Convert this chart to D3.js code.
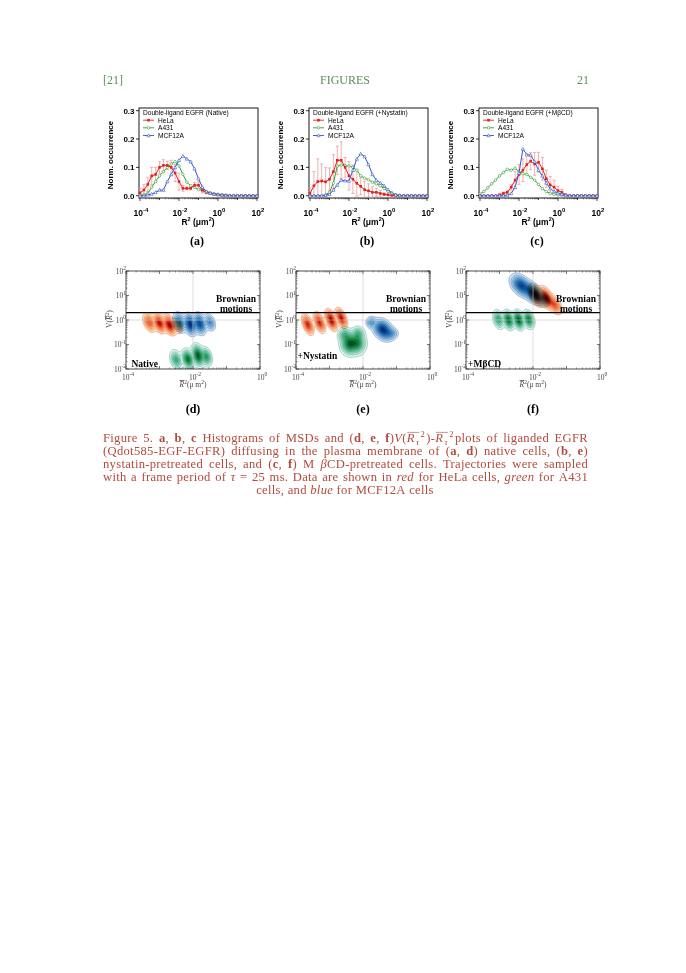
<!DOCTYPE html>
<html><head><meta charset="utf-8">
<script src="https://cdn.jsdelivr.net/npm/d3@7"></script>
<style>html,body{margin:0;padding:0;background:#fff;} svg{display:block;}</style>
</head><body><svg id="c" width="686" height="973"></svg>
<script>
// ---------------- DATA ----------------
const binExp = [-4,-3.8,-3.6,-3.4,-3.2,-3,-2.8,-2.6,-2.4,-2.2,-2,-1.8,-1.6,-1.4,-1.2,-1,-0.8,-0.6,-0.4,-0.2,0,0.2,0.4,0.6,0.8,1,1.2,1.4,1.6,1.8,2];
const seriesNames = ["HeLa","A431","MCF12A"];
const histTitles = ["Double-ligand EGFR (Native)","Double-ligand EGFR (+Nystatin)","Double-ligand EGFR (+M\u03b2CD)"];
const histLabels = ["(a)","(b)","(c)"];
const yTickVals = [0,0.1,0.2,0.3];
const yTickLabels = ["0.0","0.1","0.2","0.3"];
const xTickExp = [-4,-2,0,2];
const xTickLabels = ["-4","-2","0","2"];

const helaA = [0.01,0.02,0.04,0.07,0.075,0.1,0.107,0.107,0.1,0.08,0.05,0.026,0.026,0.026,0.037,0.037,0.02,0.012,0.008,0.005,0.003,0.002,0.001,0,0,0,0,0,0,0,0];
const helaErrA = [0.015,0.02,0.025,0.03,0.025,0.02,0.02,0.015,0.025,0.03,0.03,0.01,0.005,0.005,0.01,0.012,0.01,0.005,0.003,0.002,0.001,0,0,0,0,0,0,0,0,0,0];
const a431A = [0.002,0.004,0.008,0.03,0.05,0.07,0.085,0.1,0.112,0.12,0.105,0.075,0.048,0.035,0.03,0.022,0.018,0.014,0.01,0.007,0.005,0.003,0.002,0.001,0,0,0,0,0,0,0];
const mcfA = [0,0,0.003,0.006,0.012,0.02,0.02,0.05,0.075,0.1,0.125,0.14,0.13,0.12,0.095,0.06,0.03,0.015,0.01,0.006,0.004,0.002,0.001,0,0,0,0,0,0,0,0];

const helaB = [0.008,0.035,0.05,0.052,0.049,0.058,0.085,0.125,0.125,0.1,0.07,0.058,0.044,0.033,0.021,0.017,0.012,0.012,0.008,0.005,0.003,0.001,0,0,0,0,0,0,0,0,0];
const helaErrB = [0.02,0.05,0.08,0.06,0.05,0.04,0.06,0.05,0.065,0.035,0.05,0.05,0.045,0.03,0.03,0.025,0.02,0.015,0.01,0.005,0.003,0,0,0,0,0,0,0,0,0,0];
const a431B = [0,0,0,0,0.003,0.012,0.045,0.105,0.108,0.106,0.105,0.1,0.09,0.07,0.062,0.056,0.048,0.042,0.035,0.025,0.015,0.008,0.003,0.001,0,0,0,0,0,0,0];
const mcfB = [0,0,0,0,0.002,0.005,0.02,0.038,0.055,0.053,0.052,0.09,0.13,0.148,0.138,0.11,0.075,0.055,0.045,0.035,0.022,0.01,0.003,0.001,0,0,0,0,0,0,0];

const helaC = [0,0,0,0,0,0.003,0.008,0.012,0.03,0.055,0.075,0.09,0.11,0.122,0.112,0.118,0.095,0.06,0.038,0.03,0.018,0.012,0.003,0,0,0,0,0,0,0,0];
const helaErrC = [0,0,0,0,0,0.003,0.005,0.008,0.01,0.03,0.035,0.04,0.035,0.03,0.04,0.035,0.04,0.03,0.03,0.025,0.015,0.01,0.002,0,0,0,0,0,0,0,0];
const a431C = [0.006,0.015,0.028,0.042,0.055,0.07,0.082,0.093,0.09,0.097,0.085,0.078,0.075,0.065,0.055,0.04,0.025,0.015,0.008,0.005,0.003,0.002,0,0,0,0,0,0,0,0,0];
const mcfC = [0,0,0,0,0,0,0,0.002,0.008,0.03,0.08,0.165,0.145,0.143,0.12,0.09,0.07,0.045,0.025,0.015,0.01,0.005,0.002,0,0,0,0,0,0,0,0];

// contour panels: blob readings [log10 R2, log10 V, spreadX, spreadY, weight, tilt]
const contourLabels = ["(d)","(e)","(f)"];
const contourTags = ["Native","+Nystatin","+M\u03b2CD"];
const vYTickExp = [2,1,0,-1,-2];
const vXTickExp = [-4,-2,0];
const brownianV = 2;
const redD = [[-3.3,-0.1,0.09,0.18,0.55,-0.4],[-3.0,-0.13,0.09,0.18,0.85,-0.4],[-2.7,-0.2,0.09,0.18,1.0,-0.4],[-2.45,-0.25,0.07,0.15,0.3,-0.3]];
const blueD = [[-2.4,-0.1,0.09,0.19,0.6,-0.3],[-2.08,-0.18,0.09,0.2,1.0,-0.3],[-1.8,-0.15,0.09,0.2,0.85,-0.3],[-1.5,-0.1,0.08,0.16,0.45,-0.3]];
const greenD = [[-2.5,-1.63,0.09,0.19,0.5,-0.3],[-2.15,-1.6,0.09,0.19,0.85,-0.3],[-1.85,-1.45,0.09,0.21,1.0,-0.3],[-1.6,-1.5,0.08,0.18,0.6,-0.3]];
const redE = [[-3.65,-0.18,0.08,0.19,0.75,-0.5],[-3.3,-0.1,0.08,0.19,0.75,-0.5],[-2.95,0.0,0.08,0.19,1.0,-0.5],[-2.65,0.08,0.08,0.18,0.85,-0.5]];
const greenE = [[-2.4,-0.97,0.13,0.22,1.0,0],[-2.15,-0.95,0.12,0.22,0.7,0],[-2.55,-0.6,0.1,0.15,0.45,0],[-2.15,-0.55,0.1,0.14,0.4,0]];
const blueE = [[-1.4,-0.4,0.14,0.2,1.0,-0.3],[-1.75,-0.1,0.08,0.12,0.35,0],[-1.15,-0.55,0.1,0.12,0.3,0]];
const blueF = [[-2.35,1.4,0.15,0.21,0.9,-0.4],[-2.0,1.1,0.13,0.2,1.0,-0.4],[-1.7,0.85,0.1,0.15,0.4,-0.3]];
const redF = [[-1.9,1.0,0.1,0.2,0.9,-0.5],[-1.6,0.9,0.1,0.2,1.0,-0.5],[-1.35,0.62,0.1,0.18,0.55,-0.5]];
const greenF = [[-3.03,0.02,0.08,0.18,0.55,-0.3],[-2.73,0.0,0.08,0.18,0.9,-0.3],[-2.43,0.0,0.08,0.18,1.0,-0.3],[-2.13,0.02,0.08,0.17,0.8,-0.3]];

const captionLines = [
  [["Figure 5. "],["a","b"],[", "],["b","b"],[", "],["c","b"],[" Histograms of MSDs and ("],["d","b"],[", "],["e","b"],[", "],["f","b"],[")"],["V","i"],["("],["R","oi"],["\u03c4","osub"],["2","sup"],[")-"],["R","oi"],["\u03c4","osub"],["2","sup"],["plots of liganded EGFR"]],
  [["(Qdot585-EGF-EGFR) diffusing in the plasma membrane of ("],["a","b"],[", "],["d","b"],[") native cells, ("],["b","b"],[", "],["e","b"],[")"]],
  [["nystatin-pretreated cells, and ("],["c","b"],[", "],["f","b"],[") M "],["\u03b2","i"],["CD-pretreated cells.  Trajectories were sampled"]],
  [["with a frame period of "],["\u03c4","i"],[" = 25 ms. Data are shown in "],["red","i"],[" for HeLa cells, "],["green","i"],[" for A431"]],
  [["cells, and "],["blue","i"],[" for MCF12A cells"]]
];

// ---------------- DRAW ----------------
const svg = d3.select("#c");
const SANS = "'Liberation Sans', Arial, sans-serif";
const SERIF = "'Liberation Serif', 'Times New Roman', serif";
const COL = {HeLa:"#e3201b", A431:"#33a02c", MCF12A:"#3355cc"};

const hdr = svg.append("g").attr("font-family", SERIF).attr("font-size", 12).attr("fill", "#5b8f5b");
hdr.append("text").attr("x", 103).attr("y", 84).text("[21]");
hdr.append("text").attr("x", 345).attr("y", 84).attr("text-anchor","middle").text("FIGURES");
hdr.append("text").attr("x", 589).attr("y", 84).attr("text-anchor","end").text("21");

function sup10(sel, exp, supFs, dy) {
  sel.append("tspan").text("10");
  sel.append("tspan").attr("dy", -dy).attr("font-size", supFs).text(exp);
}

const histData = [
  {hela: helaA, err: helaErrA, a431: a431A, mcf: mcfA},
  {hela: helaB, err: helaErrB, a431: a431B, mcf: mcfB},
  {hela: helaC, err: helaErrC, a431: a431C, mcf: mcfC}
];
const histLefts = [139, 309, 479];

function marker(g, name, x, y) {
  if (name === "HeLa") {
    g.append("rect").attr("x", x-1.3).attr("y", y-1.3).attr("width", 2.6).attr("height", 2.6).attr("fill", COL.HeLa);
  } else if (name === "A431") {
    g.append("circle").attr("cx", x).attr("cy", y).attr("r", 1.3).attr("fill", "#fff").attr("stroke", COL.A431).attr("stroke-width", 0.6);
  } else {
    const s = 1.6;
    g.append("path").attr("d", `M${x},${y-s}L${x+s},${y+s*0.8}L${x-s},${y+s*0.8}Z`).attr("fill", "#fff").attr("stroke", COL.MCF12A).attr("stroke-width", 0.6);
  }
}

histData.forEach((pd, pi) => {
  const x0 = histLefts[pi];
  const top = 108, bot = 198;
  const g = svg.append("g");
  const xs = d3.scaleLog().domain([1e-4, 1e2]).range([x0 + 1, x0 + 118]);
  const ys = d3.scaleLinear().domain([0, 0.3]).range([195.7, 110.7]);
  const px = i => xs(Math.pow(10, binExp[i]));

  g.append("rect").attr("x", x0).attr("y", top).attr("width", 119).attr("height", bot - top)
    .attr("fill", "none").attr("stroke", "#000").attr("stroke-width", 0.9);

  yTickVals.forEach((v, k) => {
    g.append("line").attr("x1", x0 - 3).attr("x2", x0).attr("y1", ys(v)).attr("y2", ys(v)).attr("stroke", "#000").attr("stroke-width", 0.8);
    g.append("text").attr("x", x0 - 4.5).attr("y", ys(v) + 2.8).attr("text-anchor", "end")
      .attr("font-family", SANS).attr("font-weight", "bold").attr("font-size", 8).text(yTickLabels[k]);
  });
  for (let e = -4; e <= 2; e++) {
    const major = (e % 2 === 0);
    g.append("line").attr("x1", xs(Math.pow(10, e))).attr("x2", xs(Math.pow(10, e))).attr("y1", bot).attr("y2", bot + (major ? 3 : 2))
      .attr("stroke", "#000").attr("stroke-width", 0.7);
    if (e < 2) for (let m = 2; m <= 9; m++) {
      const xv = xs(m * Math.pow(10, e));
      g.append("line").attr("x1", xv).attr("x2", xv).attr("y1", bot).attr("y2", bot + 1.3).attr("stroke", "#000").attr("stroke-width", 0.5);
    }
  }
  xTickExp.forEach((e, k) => {
    const t = g.append("text").attr("x", xs(Math.pow(10, e)) + 1).attr("y", 216).attr("text-anchor", "middle")
      .attr("font-family", SANS).attr("font-weight", "bold").attr("font-size", 8.5);
    sup10(t, xTickLabels[k], 6, 4.5);
  });
  const xt = g.append("text").attr("x", x0 + 59).attr("y", 224.5).attr("text-anchor", "middle")
    .attr("font-family", SANS).attr("font-weight", "bold").attr("font-size", 8.5);
  xt.append("tspan").text("R");
  xt.append("tspan").attr("dy", -4).attr("font-size", 5.5).text("2");
  xt.append("tspan").attr("dy", 4).text(" (\u03bcm");
  xt.append("tspan").attr("dy", -4).attr("font-size", 5.5).text("2");
  xt.append("tspan").attr("dy", 4).text(")");
  g.append("text").attr("transform", `translate(${x0 - 26},${155}) rotate(-90)`).attr("text-anchor", "middle")
    .attr("font-family", SANS).attr("font-weight", "bold").attr("font-size", 8).text("Norm. occurrence");
  g.append("text").attr("x", x0 + 58).attr("y", 245).attr("text-anchor", "middle")
    .attr("font-family", SERIF).attr("font-weight", "bold").attr("font-size", 12).text(histLabels[pi]);

  const lg = g.append("g").attr("font-family", SANS).attr("font-size", 6.6);
  lg.append("text").attr("x", x0 + 4).attr("y", 114.8).text(histTitles[pi]);
  const legY = [120.2, 127.8, 135.5];
  seriesNames.forEach((s, k) => {
    lg.append("line").attr("x1", x0 + 4).attr("x2", x0 + 15).attr("y1", legY[k]).attr("y2", legY[k]).attr("stroke", COL[s]).attr("stroke-width", 0.9);
    marker(lg, s, x0 + 9.5, legY[k]);
    lg.append("text").attr("x", x0 + 19).attr("y", legY[k] + 2.3).text(s);
  });

  const line = d3.line().x((d, i) => px(i)).y(d => ys(d));
  const eg = g.append("g").attr("stroke", "#eb9090").attr("stroke-width", 0.7);
  pd.err.forEach((e, i) => {
    if (e <= 0) return;
    const x = px(i), y1 = ys(pd.hela[i] + e), y2 = ys(Math.max(pd.hela[i] - e, -0.005));
    eg.append("line").attr("x1", x).attr("x2", x).attr("y1", y1).attr("y2", y2);
    eg.append("line").attr("x1", x - 1.6).attr("x2", x + 1.6).attr("y1", y1).attr("y2", y1);
    eg.append("line").attr("x1", x - 1.6).attr("x2", x + 1.6).attr("y1", y2).attr("y2", y2);
  });
  [["A431", pd.a431], ["HeLa", pd.hela], ["MCF12A", pd.mcf]].forEach(([s, vals]) => {
    g.append("path").attr("d", line(vals)).attr("fill", "none").attr("stroke", COL[s]).attr("stroke-width", 1);
    const mg = g.append("g");
    vals.forEach((v, i) => marker(mg, s, px(i), ys(v)));
  });
});

// ---------------- CONTOUR PANELS ----------------
const contourLefts = [126, 296, 466];
const ctTop = 271, ctBot = 369, ctW = 134;
const levels = [0.04, 0.11, 0.2, 0.31, 0.43, 0.56, 0.7, 0.85];
const groupStyle = {
  red:   {interp: d3.interpolateOrRd, stroke: "#d94a2c", lo: 0.15, hi: 0.97},
  blue:  {interp: d3.interpolateBlues, stroke: "#2c5ca8", lo: 0.2, hi: 1.0},
  green: {interp: d3.interpolateBuGn, stroke: "#2a9560", lo: 0.15, hi: 0.95}
};
const contourData = [
  [["red", redD], ["blue", blueD], ["green", greenD]],
  [["red", redE], ["green", greenE], ["blue", blueE]],
  [["green", greenF], ["blue", blueF], ["red", redF]]
];

function density(blobs, n, m) {
  const vals = new Float64Array(n * m);
  for (let j = 0; j < m; j++) {
    const ly = 2 - 4 * (j + 0.5) / m;
    for (let i = 0; i < n; i++) {
      const lx = -4 + 4 * (i + 0.5) / n;
      let s = 0;
      for (const [cx, cy, sx, sy, w, r] of blobs) {
        const dx = (lx - cx) / sx, dy = (ly - cy) / sy;
        const q = (dx * dx - 2 * r * dx * dy + dy * dy) / (1 - r * r);
        s += w * Math.exp(-0.5 * q);
      }
      vals[j * n + i] = s;
    }
  }
  const mx = d3.max(vals);
  for (let k = 0; k < vals.length; k++) vals[k] /= mx;
  return vals;
}

const defs = svg.append("defs");
contourData.forEach((groups, pi) => {
  const x0 = contourLefts[pi];
  const xs = d3.scaleLog().domain([1e-4, 1]).range([x0, x0 + ctW]);
  const ys = d3.scaleLog().domain([1e-2, 1e2]).range([ctBot, ctTop]);
  const g = svg.append("g");
  const cid = "clip" + pi;
  defs.append("clipPath").attr("id", cid).append("rect").attr("x", x0).attr("y", ctTop).attr("width", ctW).attr("height", ctBot - ctTop);

  const n = 220, m = 220;
  const proj = d3.geoTransform({
    point: function (x, y) { this.stream.point(xs(Math.pow(10, -4 + 4 * x / n)), ys(Math.pow(10, 2 - 4 * y / m))); }
  });
  const path = d3.geoPath(proj);
  const cg = g.append("g").attr("clip-path", `url(#${cid})`);
  groups.forEach(([name, blobs]) => {
    const st = groupStyle[name];
    const vals = density(blobs, n, m);
    const cs = d3.contours().size([n, m]).thresholds(levels)(vals);
    cg.append("g").style("mix-blend-mode", "multiply")
      .selectAll("path").data(cs).join("path")
      .attr("d", path)
      .attr("fill", (d, i) => st.interp(st.lo + (st.hi - st.lo) * i / (levels.length - 1)))
      .attr("stroke", st.stroke).attr("stroke-width", 0.45).attr("stroke-opacity", 0.85);
  });
  g.append("line").attr("x1", xs(1e-2)).attr("x2", xs(1e-2)).attr("y1", ctTop).attr("y2", ctBot).attr("stroke", "#c8c8c8").attr("stroke-width", 0.6);
  g.append("line").attr("x1", x0).attr("x2", x0 + ctW).attr("y1", ys(1)).attr("y2", ys(1)).attr("stroke", "#c8c8c8").attr("stroke-width", 0.6);
  g.append("line").attr("x1", x0).attr("x2", x0 + ctW).attr("y1", ys(brownianV)).attr("y2", ys(brownianV)).attr("stroke", "#000").attr("stroke-width", 1.3);
  g.append("rect").attr("x", x0).attr("y", ctTop).attr("width", ctW).attr("height", ctBot - ctTop).attr("fill", "none").attr("stroke", "#222").attr("stroke-width", 0.8);
  const tg = g.append("g").attr("stroke", "#222");
  for (let e = -4; e <= 0; e++) {
    const xv = xs(Math.pow(10, e));
    tg.append("line").attr("x1", xv).attr("x2", xv).attr("y1", ctBot).attr("y2", ctBot - 3).attr("stroke-width", 0.6);
    tg.append("line").attr("x1", xv).attr("x2", xv).attr("y1", ctTop).attr("y2", ctTop + 3).attr("stroke-width", 0.6);
    if (e < 0) for (let k = 2; k <= 9; k++) {
      const xm = xs(k * Math.pow(10, e));
      tg.append("line").attr("x1", xm).attr("x2", xm).attr("y1", ctBot).attr("y2", ctBot - 1.6).attr("stroke-width", 0.45);
      tg.append("line").attr("x1", xm).attr("x2", xm).attr("y1", ctTop).attr("y2", ctTop + 1.6).attr("stroke-width", 0.45);
    }
  }
  for (let e = -2; e <= 2; e++) {
    const yv = ys(Math.pow(10, e));
    tg.append("line").attr("x1", x0).attr("x2", x0 + 3).attr("y1", yv).attr("y2", yv).attr("stroke-width", 0.6);
    tg.append("line").attr("x1", x0 + ctW).attr("x2", x0 + ctW - 3).attr("y1", yv).attr("y2", yv).attr("stroke-width", 0.6);
    if (e < 2) for (let k = 2; k <= 9; k++) {
      const ym = ys(k * Math.pow(10, e));
      tg.append("line").attr("x1", x0).attr("x2", x0 + 1.6).attr("y1", ym).attr("y2", ym).attr("stroke-width", 0.45);
      tg.append("line").attr("x1", x0 + ctW).attr("x2", x0 + ctW - 1.6).attr("y1", ym).attr("y2", ym).attr("stroke-width", 0.45);
    }
  }
  vYTickExp.forEach(e => {
    const t = g.append("text").attr("x", x0).attr("y", ys(Math.pow(10, e)) + 2.5).attr("text-anchor", "end")
      .attr("font-family", SERIF).attr("font-size", 7.5).attr("fill", "#444");
    sup10(t, String(e), 5.5, 3.5);
  });
  vXTickExp.forEach(e => {
    const t = g.append("text").attr("x", xs(Math.pow(10, e)) + 2).attr("y", 379.5).attr("text-anchor", "middle")
      .attr("font-family", SERIF).attr("font-size", 7.5).attr("fill", "#444");
    sup10(t, String(e), 5.5, 3.5);
  });
  const xt = g.append("text").attr("x", x0 + ctW / 2).attr("y", 387).attr("text-anchor", "middle")
    .attr("font-family", SERIF).attr("font-size", 7.5).attr("fill", "#444");
  xt.append("tspan").attr("font-style", "italic").attr("text-decoration", "overline").text("R");
  xt.append("tspan").attr("dy", -3.5).attr("font-size", 5.5).text("2");
  xt.append("tspan").attr("dy", 3.5).text("(\u03bc m");
  xt.append("tspan").attr("dy", -3.5).attr("font-size", 5.5).text("2");
  xt.append("tspan").attr("dy", 3.5).text(")");
  const yt = g.append("text").attr("transform", `translate(${x0 - 14},${319}) rotate(-90)`).attr("text-anchor", "middle")
    .attr("font-family", SERIF).attr("font-size", 7.5).attr("fill", "#444");
  yt.append("tspan").text("V(");
  yt.append("tspan").attr("font-style", "italic").attr("text-decoration", "overline").text("R");
  yt.append("tspan").attr("dy", -3.5).attr("font-size", 5.5).text("2");
  yt.append("tspan").attr("dy", 3.5).text(")");
  const bt = g.append("g").attr("font-family", SERIF).attr("font-weight", "bold").attr("font-size", 9.5).attr("text-anchor", "middle");
  bt.append("text").attr("x", x0 + ctW - 24).attr("y", 301.5).text("Brownian");
  bt.append("text").attr("x", x0 + ctW - 24).attr("y", 311.5).text("motions");
  const tagY = [367, 359, 367][pi];
  const tagX = [x0 + 5.5, x0 + 1.5, x0 + 2][pi];
  g.append("text").attr("x", tagX).attr("y", tagY).attr("font-family", SERIF).attr("font-weight", "bold").attr("font-size", 9.5).text(contourTags[pi]);
  g.append("text").attr("x", x0 + 67).attr("y", 412.5).attr("text-anchor", "middle")
    .attr("font-family", SERIF).attr("font-weight", "bold").attr("font-size", 12).text(contourLabels[pi]);
});

// ---------------- CAPTION (manually justified) ----------------
const CAP_FS = 12.6, CAP_SMALL = 8.6, CAP_LS = 0.3;
const capLeft = 103, capWidth = 485;
const cap = svg.append("g").attr("font-family", SERIF).attr("font-size", CAP_FS).attr("fill", "#b44a3c").attr("letter-spacing", CAP_LS);
function styleText(t, st) {
  if (st === "b") t.attr("font-weight", "bold");
  if (st === "i" || st === "oi") t.attr("font-style", "italic");
  if (st === "osub") t.attr("font-style", "italic").attr("font-size", CAP_SMALL);
  if (st === "sup") t.attr("font-size", CAP_SMALL);
}
const spaceW = (() => {
  const t = cap.append("text").text("a a");
  const w1 = t.node().getComputedTextLength();
  t.text("aa");
  const w2 = t.node().getComputedTextLength();
  t.remove();
  return w1 - w2;
})();
captionLines.forEach((segs, li) => {
  const last = li === captionLines.length - 1;
  const y = 442 + li * 13;
  const pieces = [];
  let pending = false;
  segs.forEach(([txt, st]) => {
    const parts = txt.split(" ");
    parts.forEach((p, k) => {
      if (k > 0) pending = true;
      if (p === "") return;
      pieces.push({text: p, st: st || "", space: pending && pieces.length > 0});
      pending = false;
    });
  });
  pieces.forEach((p, k) => {
    const t = cap.append("text").attr("y", y + (p.st === "osub" ? 3.2 : p.st === "sup" ? -5 : 0)).text(p.text);
    styleText(t, p.st);
    p.node = t;
    p.w = t.node().getComputedTextLength();
    const prev = k > 0 ? pieces[k - 1].st : "";
    p.pad = (p.st === "osub" || p.st === "sup" || prev === "sup") ? 1.2 : 0;
  });
  const total = d3.sum(pieces, p => p.w + p.pad);
  const gaps = pieces.filter(p => p.space).length;
  let gap = spaceW, x = capLeft;
  if (last) x = 345 - (total + gaps * spaceW) / 2;
  else gap = (capWidth - total) / gaps;
  let overStart = null;
  pieces.forEach(p => {
    if (p.space) x += gap;
    x += p.pad;
    p.node.attr("x", x);
    if (p.st === "oi") overStart = x;
    if (p.st === "osub" && overStart !== null) {
      cap.append("line").attr("x1", overStart + 0.5).attr("x2", x + p.w).attr("y1", y - 9.6).attr("y2", y - 9.6)
        .attr("stroke", "#b44a3c").attr("stroke-width", 0.6);
      overStart = null;
    }
    x += p.w;
  });
});
</script>
</body></html>
